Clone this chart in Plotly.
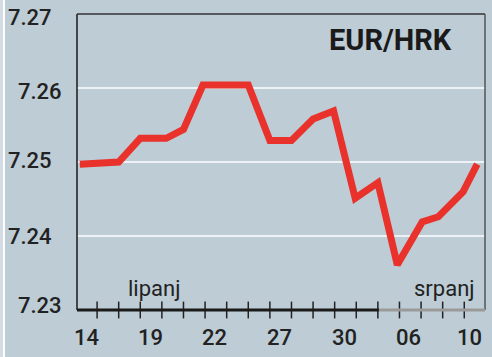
import plotly.graph_objects as go

# data: trading-day positions (tick units) and EUR/HRK rate
day_pos = [0.2, 2.0, 3.0, 4.2, 5.0, 5.9, 8.0, 9.0, 10.0, 11.0, 11.95, 12.95, 14.0, 14.9, 16.05, 16.8, 17.95, 18.6]
rate = [7.2497, 7.2500, 7.2532, 7.2532, 7.2544, 7.2604, 7.2604, 7.2529, 7.2529, 7.2558, 7.2569, 7.2451, 7.2472, 7.2361, 7.2419, 7.2426, 7.2460, 7.2497]

tick_pos = list(range(1, 19))
xlabel_pos = [0.5, 3.45, 6.45, 9.45, 12.45, 15.4, 18.25]
xlabel_text = ["14", "19", "22", "27", "30", "06", "10"]
y_ticks = [7.23, 7.24, 7.25, 7.26, 7.27]
y_ticktext = ["7.23", "7.24", "7.25", "7.26", "7.27"]
month_pos = [3.64, 17.1]
month_text = ["lipanj", "srpanj"]
july_start = 14.05

XMIN, XMAX = 0.07, 18.96
BG = "#bdccd5"
RED = "#e8322b"
FONT = "Roboto"

fig = go.Figure()
fig.add_trace(go.Scatter(x=day_pos, y=rate, mode="lines",
                         line=dict(color=RED, width=7), hoverinfo="skip"))
# tick marks crossing the x-axis line
fig.add_trace(go.Scatter(x=tick_pos, y=[7.23] * len(tick_pos), mode="markers",
                         marker=dict(symbol="line-ns", size=12,
                                     line=dict(color="#222", width=1.5)),
                         cliponaxis=False, hoverinfo="skip"))

shapes = []
# white grid lines
for v in y_ticks[1:4]:
    shapes.append(dict(type="line", xref="paper", x0=0, x1=1, yref="y", y0=v, y1=v,
                       line=dict(color="white", width=1.5), layer="below"))
# frame
shapes.append(dict(type="line", xref="paper", x0=0, x1=0, yref="paper", y0=0, y1=1,
                   line=dict(color="#1a1a1a", width=1.5)))
shapes.append(dict(type="line", xref="paper", x0=0, x1=1, yref="paper", y0=1, y1=1,
                   line=dict(color="#333", width=1.5)))
shapes.append(dict(type="line", xref="paper", x0=1, x1=1, yref="paper", y0=0, y1=1,
                   line=dict(color="#555", width=1.5)))
# bottom axis: black for June, gray for July
shapes.append(dict(type="line", xref="x", x0=XMIN, x1=july_start, yref="paper", y0=0, y1=0,
                   line=dict(color="#1a1a1a", width=3)))
shapes.append(dict(type="line", xref="x", x0=july_start, x1=XMAX, yref="paper", y0=0, y1=0,
                   line=dict(color="#9a9a9a", width=3)))
# left light strip
shapes.append(dict(type="rect", xref="paper", x0=-0.19, x1=-0.181, yref="paper", y0=-0.2, y1=1.1,
                   fillcolor="#d2dce2", line=dict(width=0), layer="below"))
shapes.append(dict(type="line", xref="paper", x0=-0.179, x1=-0.179, yref="paper", y0=-0.2, y1=1.1,
                   line=dict(color="white", width=2), layer="below"))

ann = []
ylab_x = {7.27: 54, 7.26: 64, 7.25: 54, 7.24: 54, 7.23: 64}
ylab_shift = {7.27: -3, 7.26: -3, 7.25: 2, 7.24: 0, 7.23: 5}
for v, t in zip(y_ticks, y_ticktext):
    ann.append(dict(x=(ylab_x[v] - 77) / 408, xref="paper", y=v, yref="y", text=t,
                    showarrow=False, xanchor="right", yanchor="middle", yshift=ylab_shift[v],
                    font=dict(family=FONT, size=22, color="#222", weight=500)))
for p, t in zip(xlabel_pos, xlabel_text):
    ann.append(dict(x=p, xref="x", y=0, yref="paper", text=t, showarrow=False,
                    xanchor="center", yanchor="middle", yshift=-27,
                    font=dict(family=FONT, size=22, color="#222", weight=500)))
for p, t in zip(month_pos, month_text):
    ann.append(dict(x=p, xref="x", y=0, yref="paper", text=t, showarrow=False,
                    xanchor="center", yanchor="middle", yshift=22,
                    font=dict(family=FONT, size=22, color="#222")))
ann.append(dict(x=(390 - 77) / 408, xref="paper", y=(310 - 40) / 296, yref="paper",
                text="<b>EUR/HRK</b>", showarrow=False, xanchor="center", yanchor="middle",
                font=dict(family=FONT, size=29, color="#1a1a1a")))

fig.update_layout(
    width=492, height=357,
    margin=dict(l=77, r=7, t=14, b=47),
    paper_bgcolor=BG, plot_bgcolor=BG,
    showlegend=False,
    xaxis=dict(range=[XMIN, XMAX], showgrid=False, zeroline=False, showticklabels=False,
               ticks="", showline=False, fixedrange=True),
    yaxis=dict(range=[7.23, 7.27], showgrid=False, zeroline=False, showticklabels=False,
               ticks="", showline=False, fixedrange=True),
    shapes=shapes, annotations=ann,
)
fig.write_html("out.html", config={"displayModeBar": False},
               post_script="document.body.style.margin='0';document.body.style.background='" + BG + "';")
